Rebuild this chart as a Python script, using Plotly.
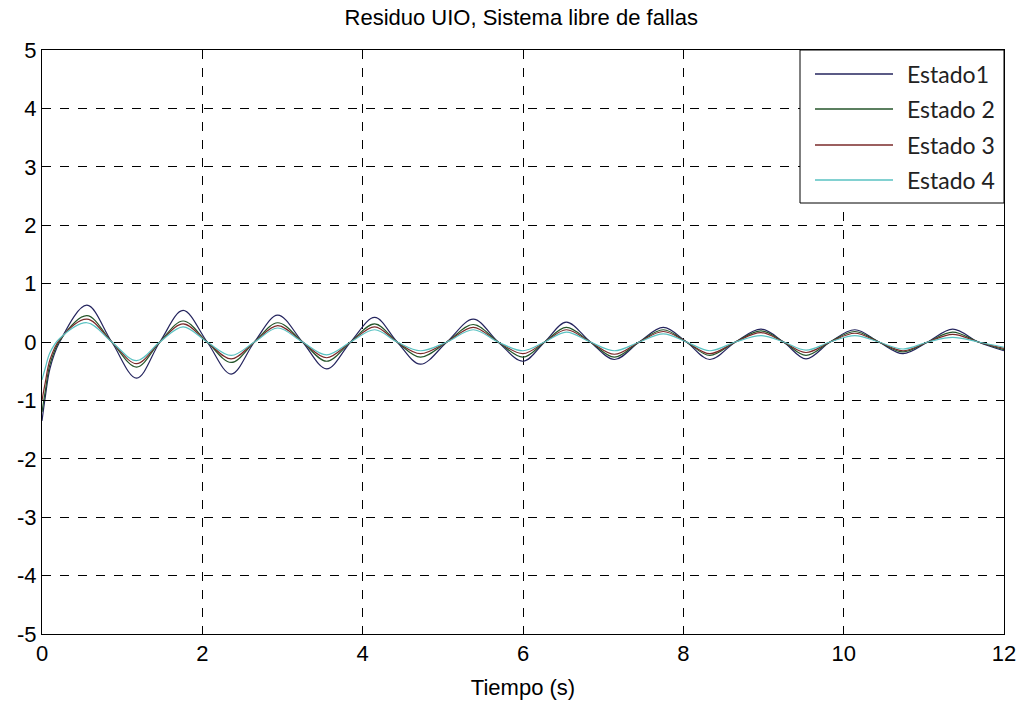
import plotly.graph_objects as go

# time points (s): start, transient, then extrema and zero crossings
t = [0.0, 0.04, 0.1, 0.22, 0.56, 0.87, 1.18, 1.47, 1.76, 2.06, 2.36, 2.65, 2.94, 3.25,
     3.55, 3.85, 4.15, 4.43, 4.72, 5.05, 5.38, 5.69, 6.0, 6.27, 6.54, 6.84, 7.14, 7.45,
     7.75, 8.04, 8.33, 8.65, 8.97, 9.25, 9.53, 9.83, 10.14, 10.44, 10.74, 11.05, 11.36,
     11.68, 12.0]

estado1 = [-1.35, -0.95, -0.45, 0.0, 0.63, 0.0, -0.62, 0.0, 0.54, 0.0, -0.55, 0.0, 0.46, 0.0,
           -0.46, 0.0, 0.42, 0.0, -0.38, 0.0, 0.39, 0.0, -0.33, 0.0, 0.34, 0.0, -0.30, 0.0,
           0.25, 0.0, -0.30, 0.0, 0.22, 0.0, -0.29, 0.0, 0.21, 0.0, -0.20, 0.0, 0.22,
           0.0, -0.15]
estado2 = [-1.2, -0.85, -0.38, 0.02, 0.45, 0.0, -0.43, 0.0, 0.36, 0.0, -0.35, 0.0, 0.33, 0.0,
           -0.33, 0.0, 0.31, 0.0, -0.26, 0.0, 0.30, 0.0, -0.26, 0.0, 0.25, 0.0, -0.26, 0.0,
           0.21, 0.0, -0.23, 0.0, 0.19, 0.0, -0.23, 0.0, 0.18, 0.0, -0.17, 0.0, 0.17,
           0.0, -0.13]
estado3 = [-1.0, -0.7, -0.3, 0.04, 0.39, 0.0, -0.37, 0.0, 0.31, 0.0, -0.29, 0.0, 0.28, 0.0,
           -0.27, 0.0, 0.26, 0.0, -0.20, 0.0, 0.25, 0.0, -0.20, 0.0, 0.21, 0.0, -0.21, 0.0,
           0.18, 0.0, -0.20, 0.0, 0.16, 0.0, -0.18, 0.0, 0.15, 0.0, -0.15, 0.0, 0.13,
           0.0, -0.11]
estado4 = [-0.65, -0.45, -0.18, 0.06, 0.33, 0.0, -0.32, 0.0, 0.26, 0.0, -0.23, 0.0, 0.24, 0.0,
           -0.22, 0.0, 0.21, 0.0, -0.15, 0.0, 0.21, 0.0, -0.15, 0.0, 0.17, 0.0, -0.15, 0.0,
           0.14, 0.0, -0.15, 0.0, 0.11, 0.0, -0.14, 0.0, 0.11, 0.0, -0.12, 0.0, 0.08,
           0.0, -0.09]

names = ["Estado1", "Estado 2", "Estado 3", "Estado 4"]
colors = ["#24245e", "#24552a", "#7a2a2a", "#58c2c2"]
series = [estado1, estado2, estado3, estado4]

x_ticks = [0, 2, 4, 6, 8, 10, 12]
y_ticks = [-5, -4, -3, -2, -1, 0, 1, 2, 3, 4, 5]

W, H = 1022, 711
ML, MR, MT, MB = 42, 18, 50, 77
FONT = "Liberation Sans, Arial, sans-serif"

fig = go.Figure()
for name, col, ys in zip(names, colors, series):
    fig.add_trace(go.Scatter(
        x=t, y=ys, mode="lines", name=name, showlegend=False,
        line=dict(color=col, width=1.2, shape="spline", smoothing=1.0),
    ))

axis_common = dict(
    showline=True, linecolor="black", linewidth=1, mirror="ticks",
    ticks="inside", ticklen=5, tickcolor="black",
    showgrid=True, gridcolor="black", gridwidth=1, griddash="dash",
    zeroline=False, automargin=False,
    tickfont=dict(family=FONT, size=22, color="black"),
)

# custom legend box (paper coordinates derived from pixel layout)
pw, ph = W - ML - MR, H - MT - MB
def px(x):
    return (x - ML) / pw
def py(y):
    return 1 - (y - MT) / ph

shapes = [dict(type="rect", xref="paper", yref="paper",
               x0=px(800), x1=px(1004), y0=py(203), y1=py(50),
               line=dict(color="black", width=1), fillcolor="white", layer="above")]
annotations = []
row_y = [74, 109, 145, 180]
for name, col, yy in zip(names, colors, row_y):
    shapes.append(dict(type="line", xref="paper", yref="paper",
                       x0=px(815), x1=px(893), y0=py(yy), y1=py(yy),
                       line=dict(color=col, width=1.5), layer="above"))
    annotations.append(dict(xref="paper", yref="paper", x=px(905), y=py(yy),
                            xanchor="left", yanchor="middle", showarrow=False,
                            text=name,
                            font=dict(family="Lato, Calibri, sans-serif", size=23, color="#222")))

fig.update_layout(
    width=W, height=H,
    margin=dict(l=ML, r=MR, t=MT, b=MB),
    paper_bgcolor="white", plot_bgcolor="white",
    title=dict(text="Residuo UIO, Sistema libre de fallas", x=0.51, xanchor="center",
               y=1 - 17 / H, yanchor="middle",
               font=dict(family=FONT, size=22, color="black")),
    xaxis=dict(range=[0, 12], tickvals=x_ticks, ticktext=[str(v) for v in x_ticks],
               title=dict(text="Tiempo (s)", standoff=14,
                          font=dict(family=FONT, size=22, color="black")),
               **axis_common),
    yaxis=dict(range=[-5, 5], tickvals=y_ticks, ticktext=[str(v) for v in y_ticks],
               **axis_common),
    shapes=shapes,
    annotations=annotations,
    showlegend=False,
)

fig.write_html("out.html")
